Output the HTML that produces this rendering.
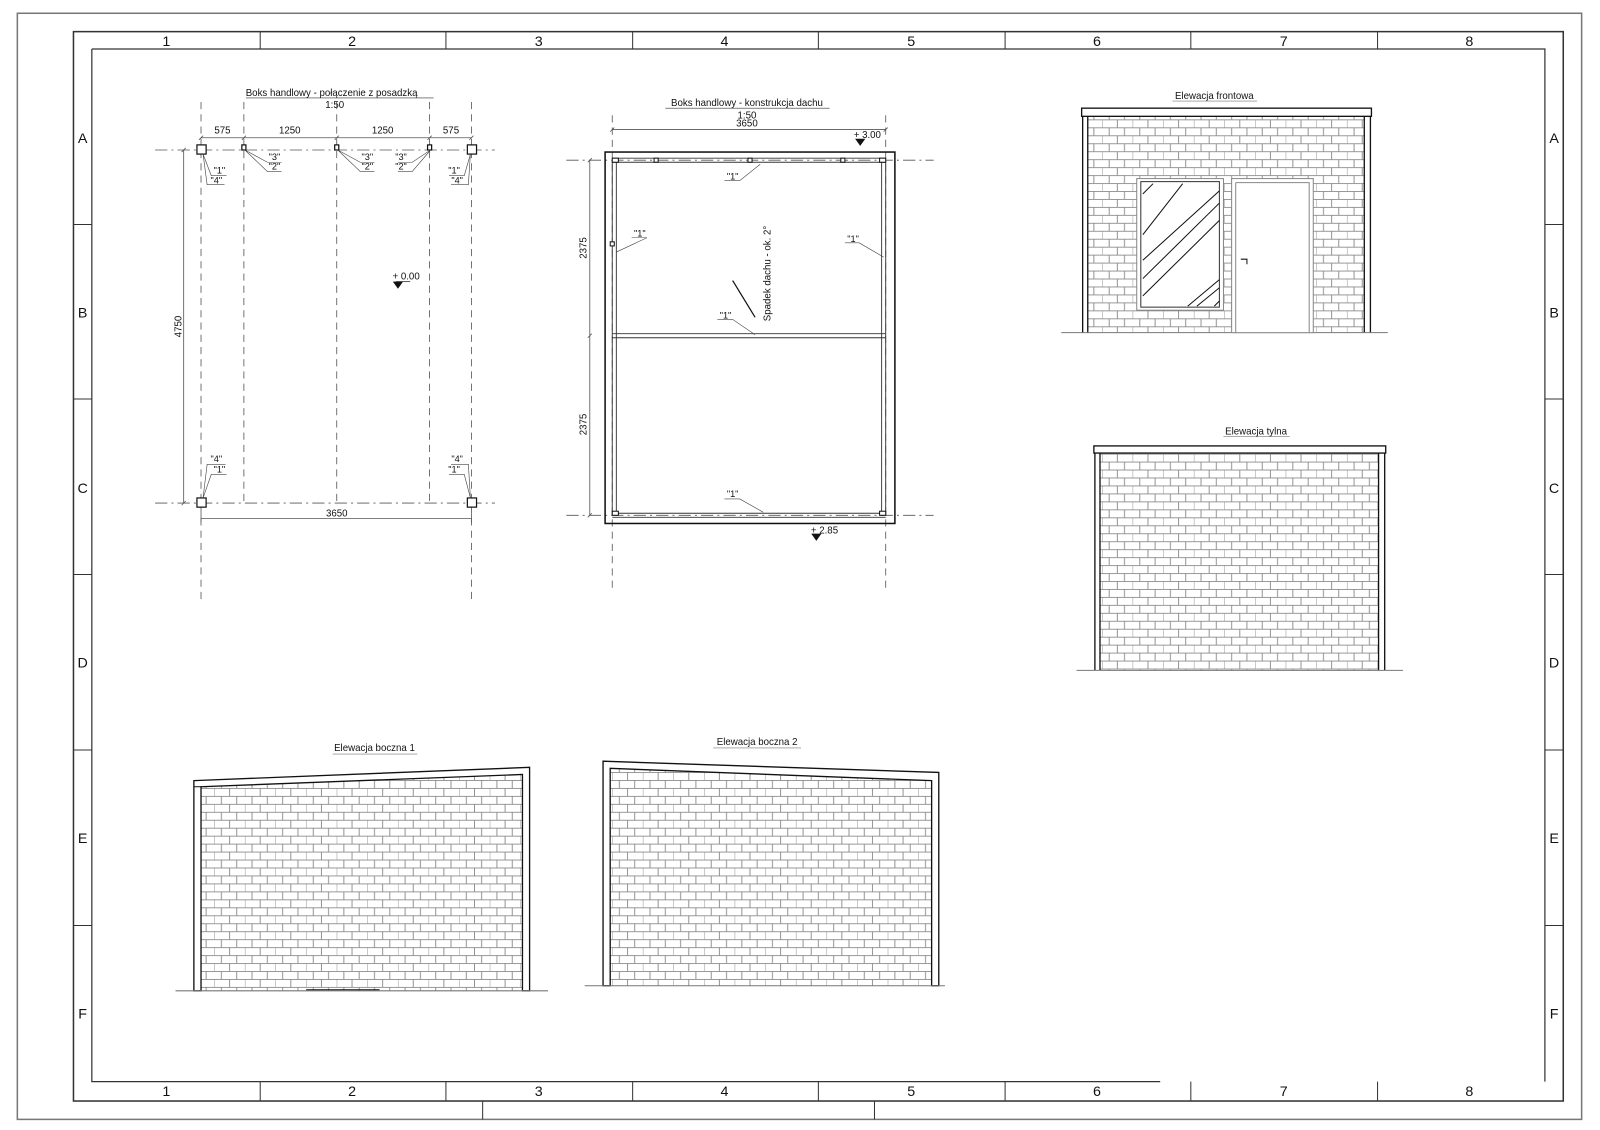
<!DOCTYPE html>
<html><head><meta charset="utf-8"><style>html,body{margin:0;padding:0;background:#fff}svg{display:block}text{font-family:"Liberation Sans",sans-serif;fill:#111}</style></head><body>
<svg width="1600" height="1130" viewBox="0 0 1568 1107.4" xmlns="http://www.w3.org/2000/svg">
<defs>
<pattern id="br" width="30" height="15.6" patternUnits="userSpaceOnUse">
<rect width="30" height="15.6" fill="#fff"/>
<path d="M0 0.4H30M0 8.2H30M7 0.4V8.2M22 0.4V8.2M0 8.2V15.6M15 8.2V15.6" stroke="#8a8a8a" stroke-width="0.9" fill="none"/>
</pattern>
</defs>
<g fill="none" stroke="#333">
<rect x="17" y="13" width="1533" height="1084" stroke="#777" stroke-width="1.5"/>
<rect x="72" y="31" width="1460" height="1048" stroke-width="1.5"/>
<path d="M90 48H1514V1060M90 48V1060H1137" stroke-width="1.2"/>
<path d="M255 31V48M437 31V48M620 31V48M802 31V48M985 31V48M1167 31V48M1350 31V48"/>
<path d="M255 1060V1079M437 1060V1079M620 1060V1079M802 1060V1079M985 1060V1079M1167 1060V1079M1350 1060V1079"/>
<path d="M72 220H90M72 391H90M72 563H90M72 735H90M72 907H90M1514 220H1532M1514 391H1532M1514 563H1532M1514 735H1532M1514 907H1532"/>
<path d="M473 1079V1097M857 1079V1097"/>
</g>
<g font-size="14" text-anchor="middle">
<text x="163" y="45">1</text><text x="345" y="45">2</text><text x="528" y="45">3</text><text x="710" y="45">4</text><text x="893" y="45">5</text><text x="1075" y="45">6</text><text x="1258" y="45">7</text><text x="1440" y="45">8</text>
<text x="163" y="1074">1</text><text x="345" y="1074">2</text><text x="528" y="1074">3</text><text x="710" y="1074">4</text><text x="893" y="1074">5</text><text x="1075" y="1074">6</text><text x="1258" y="1074">7</text><text x="1440" y="1074">8</text>
<text x="81" y="140">A</text><text x="81" y="311">B</text><text x="81" y="483">C</text><text x="81" y="654">D</text><text x="81" y="826">E</text><text x="81" y="998">F</text>
<text x="1523" y="140">A</text><text x="1523" y="311">B</text><text x="1523" y="483">C</text><text x="1523" y="654">D</text><text x="1523" y="826">E</text><text x="1523" y="998">F</text>
</g>

<!-- Plan 1 -->
<g font-size="9.5" text-anchor="middle">
<text x="325" y="94">Boks handlowy - połączenie z posadzką</text>
<text x="328" y="106">1:50</text>
<text x="218" y="131">575</text><text x="284" y="131">1250</text><text x="375" y="131">1250</text><text x="442" y="131">575</text>
<text x="330" y="506">3650</text>
<text x="178" y="320" transform="rotate(-90 178 320)">4750</text>
<text x="398" y="274">+ 0.00</text>
</g>
<path d="M241 96H425" stroke="#333" stroke-width="0.6"/>
<g stroke="#555" stroke-width="0.8" fill="none">
<path d="M197 100V590M462 100V590M239 100V493M330 100V493M421 100V493" stroke-dasharray="7 5"/>
<path d="M152 147H485M152 493H485" stroke-dasharray="12 4 2 4"/>
<path d="M197 135H462M180 147V493M197 508H462M197 503V512M462 503V512"/>
<path d="M195 137L199 133M237 137L241 133M328 137L332 133M419 137L423 133M460 137L464 133M178 149L182 145M178 495L182 491"/>
<path d="M388 276H402" stroke="#333"/>
</g>
<polygon points="385,276 395,276 390,283" fill="#111"/>
<g stroke="#111" stroke-width="1.2" fill="#fff">
<rect x="193" y="142" width="9" height="9"/><rect x="458" y="142" width="9" height="9"/>
<rect x="193" y="488" width="9" height="9"/><rect x="458" y="488" width="9" height="9"/>
<rect x="237" y="142" width="4" height="5"/><rect x="328" y="142" width="4" height="5"/><rect x="419" y="142" width="4" height="5"/>
</g>
<g stroke="#444" stroke-width="0.6" fill="none">
<path d="M240 147L262 159H276M240 147L262 168H276M331 147L353 159H367M331 147L353 168H367M422 147L404 159H390M422 147L404 168H390"/>
<path d="M199 151L207 172H222M199 151L203 181H220M461 151L455 172H440M461 151L459 181H442"/>
<path d="M199 488L203 455H221M199 488L207 465H222M461 488L459 455H442M461 488L455 465H440"/>
</g>
<g font-size="9" text-anchor="middle">
<text x="269" y="157">"3"</text><text x="269" y="166">"2"</text><text x="360" y="157">"3"</text><text x="360" y="166">"2"</text><text x="393" y="157">"3"</text><text x="393" y="166">"2"</text>
<text x="215" y="170">"1"</text><text x="212" y="180">"4"</text><text x="445" y="170">"1"</text><text x="448" y="180">"4"</text>
<text x="212" y="453">"4"</text><text x="215" y="463">"1"</text><text x="448" y="453">"4"</text><text x="445" y="463">"1"</text>
</g>

<!-- Roof -->
<g font-size="9.5" text-anchor="middle">
<text x="732" y="104">Boks handlowy - konstrukcja dachu</text>
<text x="732" y="116">1:50</text><text x="732" y="124">3650</text>
<text x="850" y="135">+ 3.00</text>
<text x="808" y="523">+ 2.85</text>
<text x="575" y="243" transform="rotate(-90 575 243)">2375</text>
<text x="575" y="416" transform="rotate(-90 575 416)">2375</text>
<text x="755" y="268" transform="rotate(-90 755 268)">Spadek dachu - ok. 2°</text>
</g>
<path d="M652 106H813" stroke="#333" stroke-width="0.6"/>
<g stroke="#555" stroke-width="0.8" fill="none">
<path d="M600 113V580M868 113V580" stroke-dasharray="7 5"/>
<path d="M555 157H915M555 505H915" stroke-dasharray="12 4 2 4"/>
<path d="M600 127H868M598 129L602 125M866 129L870 125M578 157V505M576 159L580 155M576 331L580 327M576 507L580 503"/>
</g>
<polygon points="838,136 848,136 843,143" fill="#111"/>
<polygon points="795,523 805,523 800,530" fill="#111"/>
<rect x="593" y="149" width="284" height="364" fill="none" stroke="#111" stroke-width="1.5"/>
<g stroke="#333" stroke-width="0.9" fill="none">
<path d="M600 155H868M600 159H868M600 327H868M600 331H868M600 503H868M600 507H868"/>
<path d="M600 157V505M604 159V503M864 159V503M868 157V505"/>
</g>
<g stroke="#111" fill="#fff"><rect x="600" y="155" width="6" height="4"/><rect x="641" y="155" width="4" height="4"/><rect x="733" y="155" width="4" height="4"/><rect x="824" y="155" width="4" height="4"/><rect x="862" y="155" width="6" height="4"/><rect x="598" y="237" width="4" height="4"/><rect x="600" y="501" width="6" height="4"/><rect x="862" y="501" width="6" height="4"/></g>
<path d="M718 275L740 311" stroke="#111" stroke-width="1.2"/>
<g stroke="#444" stroke-width="0.6" fill="none">
<path d="M710 177H725L745 161M619 233H634L604 247M828 238H842L866 252M703 313H718L740 328M710 489H725L748 502"/>
</g>
<g font-size="9" text-anchor="middle"><text x="718" y="176">"1"</text><text x="627" y="232">"1"</text><text x="836" y="237">"1"</text><text x="711" y="312">"1"</text><text x="718" y="487">"1"</text></g>

<!-- Elevations -->
<g font-size="9.5" text-anchor="middle">
<text x="1190" y="97">Elewacja frontowa</text>
<text x="1231" y="426">Elewacja tylna</text>
<text x="367" y="736">Elewacja boczna 1</text>
<text x="742" y="730">Elewacja boczna 2</text>
</g>
<g stroke="#777" stroke-width="0.6"><path d="M1149 99H1232M1199 428H1264M326 739H409M699 733H785"/></g>

<!-- front -->
<rect x="1066" y="114" width="271" height="212" fill="url(#br)"/>
<rect x="1060" y="106" width="284" height="8" fill="#fff" stroke="#111" stroke-width="1.3"/>
<path d="M1061 114V326M1066 114V326M1337 114V326M1343 114V326" stroke="#111" stroke-width="1.3"/>
<path d="M1040 326H1360" stroke="#777"/>
<rect x="1114" y="175" width="85" height="129" fill="#fff" stroke="#888"/>
<rect x="1118" y="178" width="77" height="123" fill="#fff" stroke="#333"/>
<g stroke="#111" stroke-width="1"><path d="M1120 190L1130 180M1120 230L1159 180M1120 255L1195 187M1120 273L1195 199M1120 290L1195 216M1173 300L1195 282M1190 300L1195 295M1164 300L1195 274"/></g>
<rect x="1207" y="175" width="80" height="151" fill="#fff" stroke="#888"/>
<path d="M1211 179H1283V326M1211 179V326" stroke="#888" fill="none"/>
<path d="M1216 254H1222V259" stroke="#111" fill="none"/>

<!-- rear -->
<rect x="1078" y="444" width="273" height="213" fill="url(#br)"/>
<rect x="1072" y="437" width="286" height="7" fill="#fff" stroke="#111" stroke-width="1.3"/>
<path d="M1073 444V657M1078 444V657M1351 444V657M1357 444V657" stroke="#111" stroke-width="1.3"/>
<path d="M1055 657H1375" stroke="#777"/>

<!-- side 1 -->
<polygon points="197,771 512,759 512,971 197,971" fill="url(#br)"/>
<polygon points="190,765 519,752 519,971 512,971 512,759 197,771 197,971 190,971" fill="#fff" stroke="#111" stroke-width="1.3"/>
<path d="M190 771H197" stroke="#111"/>
<path d="M172 971H537" stroke="#777"/>
<path d="M300 970H372" stroke="#111"/>

<!-- side 2 -->
<polygon points="598,753 913,765 913,966 598,966" fill="url(#br)"/>
<polygon points="591,746 920,757 920,966 913,966 913,765 598,753 598,966 591,966" fill="#fff" stroke="#111" stroke-width="1.3"/>
<path d="M573 966H926" stroke="#777"/>
</svg>
</body></html>
